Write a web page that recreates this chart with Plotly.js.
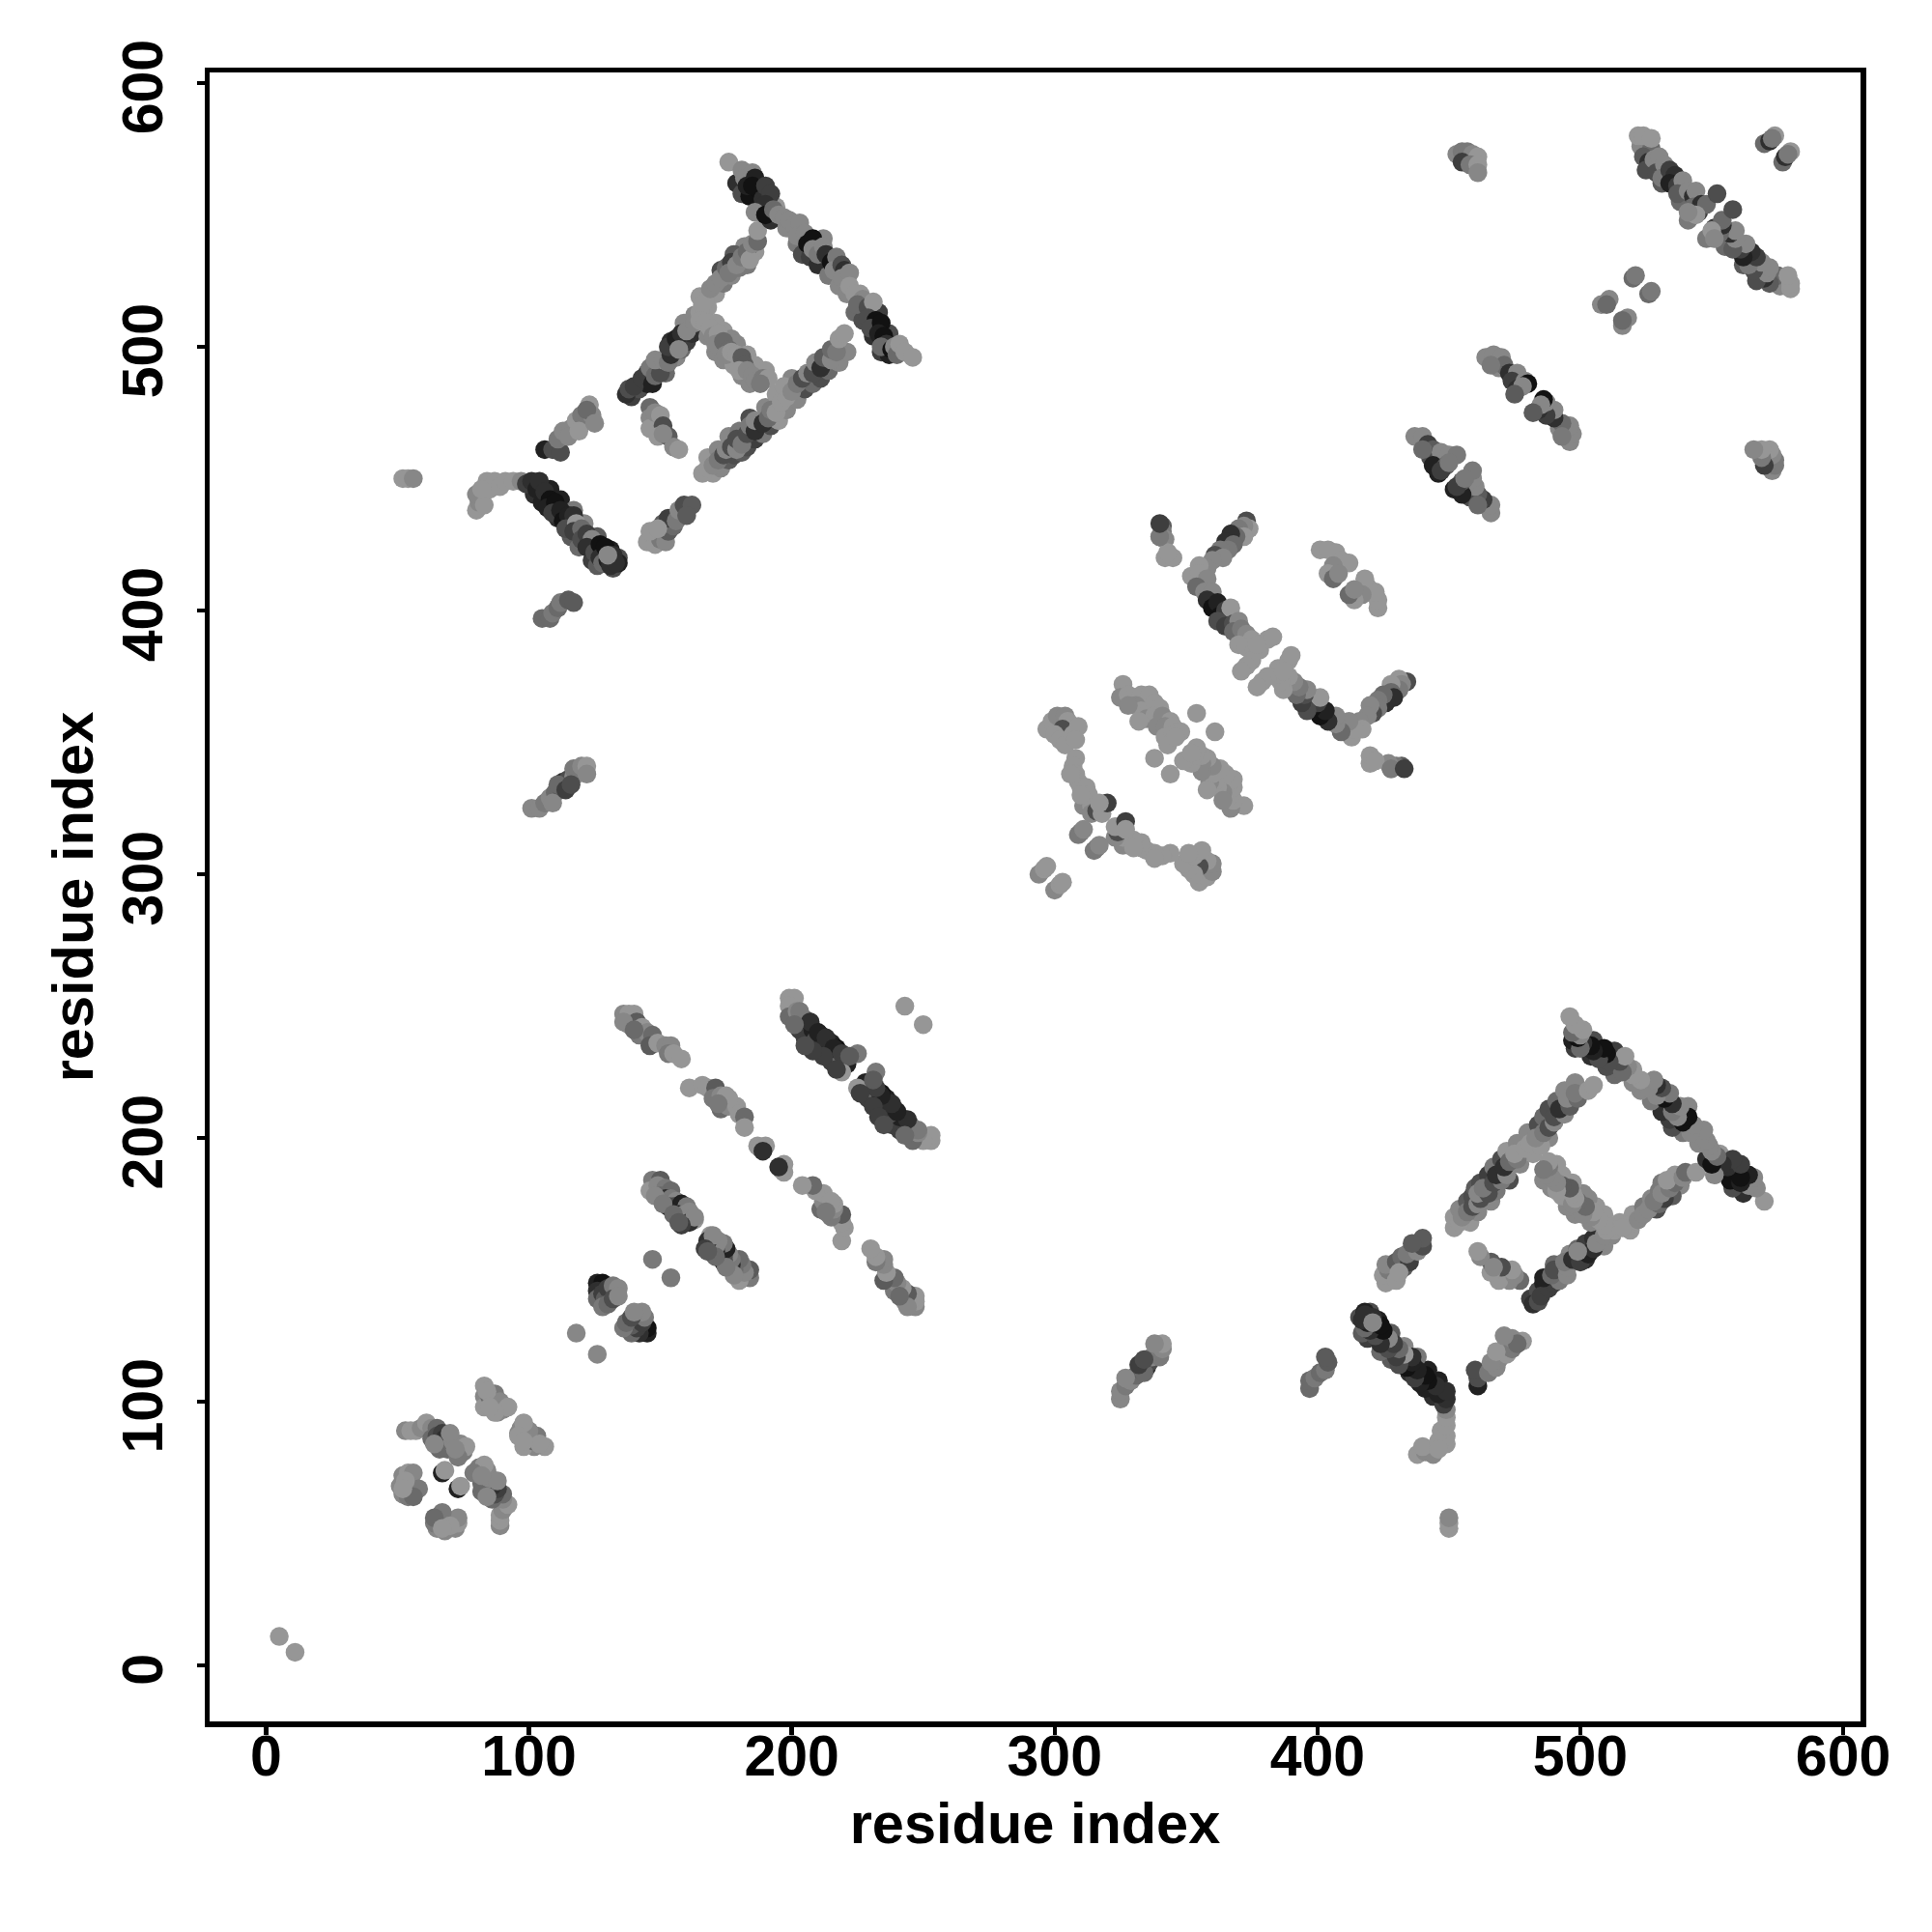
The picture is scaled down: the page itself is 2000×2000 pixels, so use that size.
<!DOCTYPE html>
<html><head><meta charset="utf-8">
<script src="https://cdn.plot.ly/plotly-3.0.1.min.js"></script>
<style>html,body{margin:0;padding:0;background:#fff}</style></head>
<body><div id="chart" style="width:2000px;height:2000px"></div>
<script>
// Contacts read from the upper triangle, as [residue i, residue j, darkness 0-9]. The map is symmetric.
const nTerm = [[5,11,0]];
const clusterA = [[53,89,1],[55,89,0],[57,89,0],[59,90,1],[61,92,0],[63,90,1],[65,90,3],[63,86,3],[65,87,5],[67,88,6],[68,86,7],[68,84,6],[66,82,3],[69,82,3],[71,85,1],[74,84,1],[75,81,2],[76,83,0],[73,79,2],[64,84,1],[70,88,1],[72,82,1]];
const clusterB = [[52,72,1],[54,73,0],[56,73,1],[51,68,1],[52,65,1],[54,64,2],[56,65,3],[58,67,2],[56,64,3],[53,70,0],[52,67,0],[67,73,8],[68,74,0]];
const clusterC = [[83,106,0],[83,102,1],[83,98,0],[85,102,3],[87,103,2],[86,99,4],[88,96,1],[89,100,1],[90,97,1],[92,98,0],[87,96,0],[84,104,0],[85,98,0]];
const turnA = [[118,126,1],[147,154,2]];
const turnB = [[126,145,8],[128,145,9],[126,142,7],[126,139,3],[128,141,6],[129,139,4],[130,143,6],[132,144,2],[134,143,1],[128,136,2],[130,137,3],[132,139,5],[134,140,1]];
const sheetA = [[147,184,2],[150,184,4],[146,180,0],[149,182,1],[152,181,2],[154,180,3],[150,178,3],[152,177,7],[154,177,2],[156,176,1],[153,174,8],[155,174,5],[158,175,8],[160,174,2],[157,171,8],[159,171,1],[161,172,1],[163,169,0],[161,168,7],[163,170,1],[158,167,6],[148,178,1],[151,175,2],[155,171,3],[157,168,4]];
const sheetB = [[136,247,1],[138,247,0],[140,247,0],[138,243,1],[141,244,4],[143,242,0],[142,239,2],[145,240,1],[147,239,3],[146,235,4],[149,236,0],[152,235,1],[154,235,1],[153,232,2],[155,232,0],[158,230,0],[136,244,1],[140,241,3]];
const sheetC = [[161,219,0],[166,220,0],[168,219,0],[171,219,4],[170,215,2],[173,216,1],[175,216,0],[173,211,3],[176,212,1],[179,212,0],[180,209,0],[182,208,3],[182,204,0],[176,215,0],[172,213,2]];
const sheetD = [[187,197,0],[190,197,0],[188,196,0],[189,195,7]];
const sheetE = [[199,253,0],[201,253,0],[199,250,0],[200,247,0],[199,246,3],[202,248,1],[203,244,3],[205,245,3],[203,241,6],[206,243,8],[205,238,6],[208,241,8],[209,237,5],[211,239,6],[212,236,7],[215,236,8],[214,232,7],[217,234,9],[215,229,6],[218,232,5],[219,229,3],[221,228,8],[225,232,2],[219,225,0],[203,248,2],[207,244,7],[210,240,8],[213,238,7],[216,234,8],[219,232,6],[222,231,4],[212,231,6],[208,233,6],[205,235,5],[201,243,3],[217,226,6]];
const sheetF = [[243,250,0]];
const bandParallel = [[101,325,1],[104,325,1],[106,327,2],[108,329,1],[110,331,3],[112,333,4],[113,335,7],[115,336,5],[117,337,1],[117,340,2],[119,339,2],[120,341,1],[122,341,0],[122,338,1],[109,327,1],[111,334,3],[114,332,6],[116,334,5]];
const bandB = [[105,397,3],[108,397,3],[109,399,2],[111,401,3],[112,403,2],[115,404,4],[117,403,4]];
const stray = [[52,450,0],[54,450,0],[56,450,1],[80,438,0],[81,441,1],[80,444,1],[83,440,0],[85,446,0],[84,449,0],[87,449,0],[89,447,0],[91,449,0],[94,449,0],[97,449,1],[82,446,0]];
const ladderA = [[102,444,7],[105,441,8],[111,435,7],[116,428,4],[119,424,3],[124,419,6],[126,417,4],[108,446,8],[112,442,8],[117,438,2],[121,433,1],[126,428,4],[131,423,8],[134,420,5],[132,416,5],[134,418,8],[99,448,6],[101,449,7],[103,446,8],[104,449,7],[106,445,7],[108,442,9],[107,439,8],[110,441,9],[109,437,6],[112,438,8],[113,434,9],[115,436,8],[117,436,7],[114,431,5],[118,433,0],[117,430,6],[120,431,3],[120,427,5],[122,429,6],[124,427,1],[122,424,7],[125,422,5],[127,425,9],[127,420,7],[129,424,9],[128,418,3],[130,419,8],[132,421,7],[131,417,7],[133,418,7],[130,421,1]];
const ladderB = [[106,461,8],[109,461,5],[112,460,5],[111,465,2],[113,468,1],[116,469,1],[118,472,0],[120,474,2],[122,472,2],[123,478,0],[124,474,1],[122,476,3],[115,466,1],[119,468,0],[125,471,1]];
const ladderC = [[145,426,0],[148,425,0],[150,427,2],[152,426,1],[153,430,4],[151,433,4],[155,432,3],[153,435,6],[156,434,2],[157,438,1],[159,440,5],[162,440,4],[160,436,4],[146,430,0],[149,431,0]];
const ladderD = [[139,481,6],[142,484,5],[145,486,8],[150,492,1],[152,490,3],[156,496,1],[158,499,3],[160,502,6],[162,505,7],[154,502,7],[159,509,1],[163,512,1],[168,515,0],[165,519,0],[171,520,0],[174,524,2],[177,527,1],[180,530,2],[183,531,2],[182,538,1],[186,536,0],[178,535,4],[173,529,5],[137,482,7],[138,484,5],[140,485,6],[143,488,6],[145,490,6],[147,486,8],[146,492,2],[148,489,3],[150,490,5],[148,495,1],[151,495,1],[153,494,2],[154,497,7],[153,500,6],[156,503,8],[158,505,7],[157,499,1],[160,506,1],[163,509,1],[165,513,0],[167,518,0],[166,516,0],[169,522,1],[171,524,1],[173,526,1],[175,530,3],[177,532,6],[176,528,2],[179,531,1],[181,534,2],[183,536,3],[184,533,0],[185,539,1],[187,540,3],[187,544,0]];
const ladderE = [[179,562,7],[181,558,5],[184,557,9],[188,553,9],[192,548,7],[194,553,0],[198,545,1],[202,539,2],[204,535,5],[207,534,6],[210,531,7],[214,527,2],[218,523,1],[221,520,1],[226,520,0],[224,513,3],[227,510,5],[231,504,7],[234,498,6],[237,497,8],[240,500,0],[237,505,5],[233,513,6],[212,541,1],[176,570,0],[181,567,1],[182,564,1],[185,566,1],[183,561,8],[186,564,8],[187,560,9],[185,561,9],[189,556,7],[190,561,6],[192,558,6],[190,554,7],[186,551,1],[190,550,9],[193,552,3],[195,550,1],[197,549,1],[199,548,1],[201,546,1],[203,547,1],[202,542,1],[205,543,1],[206,539,9],[208,541,9],[208,537,1],[210,535,2],[212,538,1],[213,535,7],[215,532,9],[217,534,2],[216,529,1],[219,531,5],[220,529,7],[219,526,1],[222,528,1],[222,523,0],[224,520,0],[227,518,1],[225,516,3],[229,515,5],[231,517,0],[229,511,5],[232,510,9],[230,507,5],[234,509,9],[233,505,8],[235,504,9],[236,501,7],[234,500,3],[238,499,9],[239,500,1],[240,497,3],[241,501,0],[243,498,0],[246,496,0]];
const ladderF = [[171,509,0],[174,506,0],[177,503,1],[179,501,1],[183,497,0],[186,493,0],[190,491,0],[168,504,1],[171,498,1],[174,495,1],[178,493,0],[181,489,1],[184,486,1],[165,510,0],[167,509,0],[169,507,0],[170,504,1],[172,505,0],[171,501,1],[174,502,3],[176,499,3],[175,497,1],[177,498,0],[179,497,0],[181,496,4],[182,493,4],[180,491,0],[183,491,1],[185,489,1],[186,487,1],[189,488,2],[191,488,0],[188,486,2]];
const ladderG = [[170,452,0],[173,454,1],[176,457,4],[178,459,5],[181,460,4],[183,462,5],[186,465,6],[189,467,2],[192,470,5],[195,472,0],[198,476,1],[202,480,1],[205,484,5],[208,486,3],[211,488,5],[214,491,3],[218,494,1],[221,498,1],[168,458,0],[172,461,1],[176,466,1],[180,468,2],[184,473,5],[190,477,1],[194,482,0],[200,488,1],[166,452,0],[168,454,0],[170,455,1],[172,457,2],[174,459,5],[175,461,1],[177,462,5],[179,461,1],[179,465,5],[181,463,2],[183,467,5],[184,470,2],[186,468,7],[186,472,1],[189,471,7],[191,473,3],[192,476,2],[194,475,0],[196,479,0],[198,481,0],[197,485,0],[200,483,1],[202,486,2],[204,488,5],[206,490,1],[208,490,5],[209,494,1],[211,492,7],[212,496,4],[215,495,1],[215,499,3],[217,498,2],[218,503,0],[220,505,0]];
const ladderH = [[146,477,3],[146,473,1],[146,469,0],[148,475,1],[150,474,0],[151,470,5],[149,466,0],[153,466,4],[155,462,1],[157,461,0],[151,467,1]];
const domainA = [[294,300,1],[296,302,0],[297,303,0],[297,355,0],[299,358,0],[301,360,1],[304,360,1],[305,358,0],[303,355,5],[300,353,0],[302,351,0],[304,349,0],[307,353,0],[309,356,0],[308,351,0],[308,344,0],[307,341,0],[308,338,0],[309,335,0],[310,333,0],[312,333,0],[311,329,0],[313,330,0],[311,326,1],[314,326,0],[314,323,1],[316,324,5],[318,323,0],[320,327,6],[317,327,0],[310,316,1],[309,315,2],[311,317,1],[306,338,0],[310,330,0]];
const domainB = [[326,372,0],[325,367,1],[328,368,0],[330,367,0],[333,368,0],[336,368,0],[331,364,1],[333,362,0],[336,362,0],[338,365,0],[340,363,0],[335,359,1],[338,360,0],[341,360,1],[344,358,0],[339,356,1],[342,356,1],[345,356,0],[342,352,0],[345,353,0],[347,354,0],[348,354,0],[343,349,0],[346,352,0],[328,364,1],[332,358,0],[354,361,0],[338,344,0]];
const domainC = [[341,432,4],[341,430,2],[342,427,1],[342,420,0],[345,420,0],[340,428,0],[373,434,5],[374,431,0],[372,432,1],[370,431,2],[372,428,0],[369,428,3],[367,429,7],[365,426,7],[368,425,3],[366,423,2],[363,423,2],[361,421,5],[364,420,1],[360,419,1],[358,416,1],[355,417,0],[352,413,0],[355,414,0],[358,412,1],[354,409,3],[357,407,1],[360,407,1],[358,404,7],[360,401,9],[362,403,8],[363,398,9],[365,400,6],[367,401,0],[362,396,5],[365,394,6],[368,395,5],[370,396,1],[368,392,3],[371,393,2],[373,391,1],[375,389,0],[370,387,0],[373,386,0],[376,385,0],[378,385,0],[381,389,0],[383,390,0],[375,381,0],[373,379,0],[371,377,0],[377,387,0]];
const domainD = [[401,423,0],[404,423,0],[407,422,0],[409,419,0],[412,418,0],[406,417,1],[404,414,0],[406,412,3],[408,414,1]];
const domainE = [[343,422,0],[340,428,2],[340,433,6]];
const helixA = [[437,466,1],[440,466,1],[442,463,6],[444,461,4],[443,458,5],[447,460,1],[450,459,1],[453,459,2],[444,455,8],[446,452,8],[449,455,4],[447,453,6],[450,456,2],[440,461,3]];
const helixB = [[464,496,1],[467,497,1],[470,496,1],[469,492,1],[471,493,3],[473,490,7],[476,490,1],[474,487,6],[476,484,7],[479,487,1],[480,486,9],[478,485,1],[475,482,4],[466,493,2]];
const helixC = [[508,516,1],[511,518,1],[510,516,3],[520,526,3],[521,527,2]];
const helixD = [[453,573,1],[455,574,2],[457,574,2],[459,573,1],[461,572,0],[455,570,6],[458,569,2],[461,569,0],[461,566,1]];
const helixE = [[523,576,1],[527,575,3],[530,568,6],[533,564,7],[536,561,8],[540,556,6],[542,554,5],[526,573,3],[531,562,4],[538,555,3],[541,548,2],[522,580,0],[524,580,0],[527,579,0],[524,572,4],[526,570,7],[525,567,5],[528,571,1],[530,572,1],[529,566,5],[532,569,1],[531,564,2],[534,567,6],[536,565,7],[534,562,8],[537,561,6],[539,563,1],[537,558,4],[541,559,1],[543,557,7],[544,559,1],[543,553,3],[545,551,6],[546,554,7],[548,554,3],[552,558,5],[544,550,0],[541,551,1]];
const helixF = [[570,577,3],[572,578,7],[574,580,0],[573,579,2]];
</script>
<script>
const groups = [nTerm,clusterA,clusterB,clusterC,turnA,turnB,sheetA,sheetB,sheetC,sheetD,sheetE,sheetF,bandParallel,bandB,stray,ladderA,ladderB,ladderC,ladderD,ladderE,ladderF,ladderG,ladderH,domainA,domainB,domainC,domainD,domainE,helixA,helixB,helixC,helixD,helixE,helixF];
const rows = groups.flat();
const xs = rows.map(r => r[0]).concat(rows.map(r => r[1]));
const ys = rows.map(r => r[1]).concat(rows.map(r => r[0]));
const shade = rows.map(r => r[2]).concat(rows.map(r => r[2]));
const tickVals = [0,100,200,300,400,500,600];
const face = '"Liberation Sans", Arial, sans-serif';
const titleFont = {family:face, size:59.5, color:'#000', weight:700};
const tickFont = {family:face, size:59, color:'#000', weight:700};
const axisBase = {
  tickvals:tickVals, ticktext:tickVals.map(String), ticks:'outside', ticklen:8, tickwidth:4.5, tickcolor:'#000',
  showline:true, mirror:true, linecolor:'#000', linewidth:5.5, showgrid:false, zeroline:false, automargin:false, tickfont:tickFont
};
Plotly.newPlot('chart',[{
  type:'scatter', mode:'markers', x:xs, y:ys,
  marker:{size:19.5, color:shade, cmin:0, cmax:9, colorscale:[[0,'#969696'],[1,'#121212']], showscale:false, line:{width:0}},
  hoverinfo:'skip'
}],{
  width:2000, height:2000, paper_bgcolor:'#fff', plot_bgcolor:'#fff', showlegend:false,
  margin:{l:217,r:74,t:75,b:218},
  xaxis:Object.assign({},axisBase,{range:[-21.5,606.6], ticklabelstandoff:-28,
    title:{text:'residue index', font:titleFont, standoff:18}}),
  yaxis:Object.assign({},axisBase,{range:[-21.2,604], tickangle:-90, ticklabelstandoff:12, ticklabelshift:13,
    title:{text:'residue index', font:titleFont, standoff:1}})
},{displayModeBar:false,staticPlot:true});
</script>
</body></html>
